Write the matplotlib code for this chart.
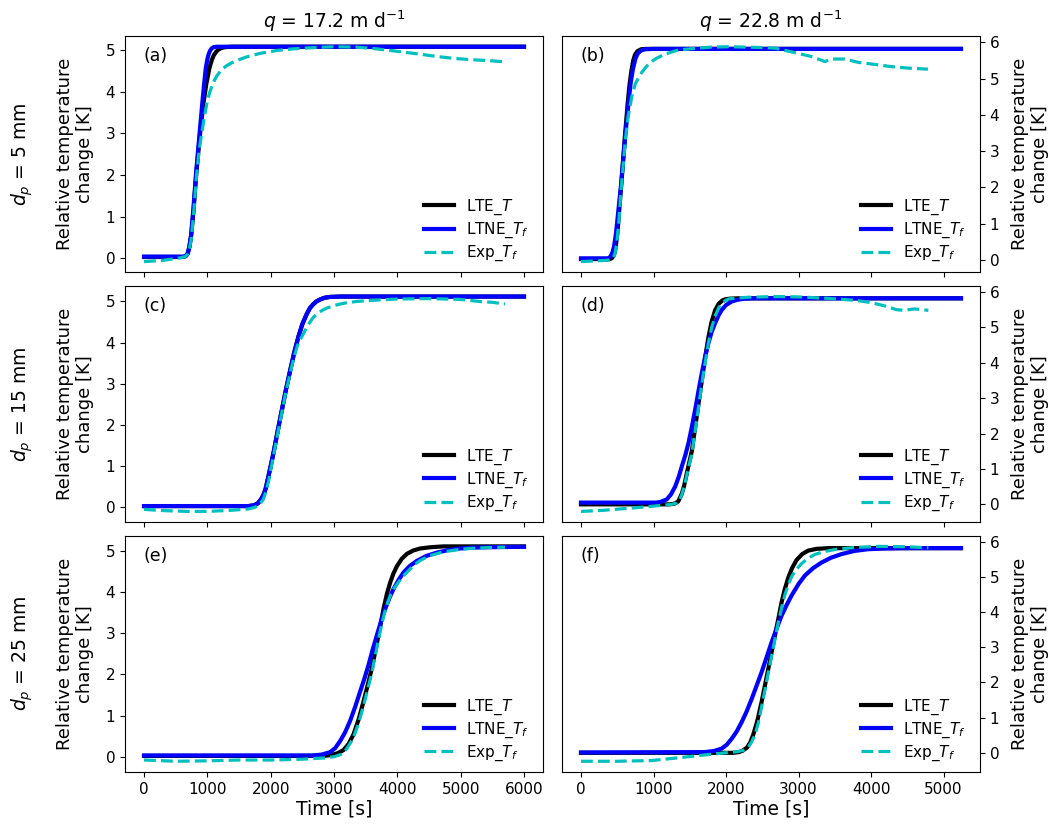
import matplotlib
matplotlib.use('Agg')
import matplotlib.pyplot as plt

# ---------------------------------------------------------------- data
# (a) q = 17.2, dp = 5 mm
a_lte_t = [0, 620, 660, 690, 717, 745, 785, 825, 880, 938, 985, 1032, 1070, 1100, 1140,
           1175, 1220, 1280, 1400, 6000]
a_lte = [0.03, 0.03, 0.05, 0.11, 0.27, 0.55, 1.2, 2.03, 2.92, 3.72, 4.2, 4.56, 4.76,
         4.87, 4.96, 5.01, 5.05, 5.07, 5.08, 5.08]
a_ltne_t = [0, 620, 660, 690, 715, 743, 780, 822, 875, 922, 950, 975, 1000, 1020, 1045,
            1069, 1100, 1150, 6000]
a_ltne = [0.04, 0.04, 0.06, 0.12, 0.28, 0.56, 1.2, 2.05, 2.96, 3.76, 4.2, 4.56, 4.78,
          4.9, 4.99, 5.04, 5.07, 5.08, 5.08]
a_exp_t = [0, 300, 570, 650, 690, 715, 745, 790, 830, 870, 911, 950, 990, 1030, 1070,
           1110, 1150, 1220, 1300, 1380, 1465, 1650, 1833, 2100, 2360, 2700, 3000,
           3350, 3600, 3835, 4100, 4362, 4600, 4890, 5150, 5400, 5680]
a_exp = [-0.08, -0.05, 0.01, 0.04, 0.1, 0.22, 0.45, 1.2, 2.0, 2.6, 3.0, 3.38, 3.7, 3.95,
         4.13, 4.27, 4.38, 4.52, 4.62, 4.69, 4.75, 4.85, 4.92, 4.99, 5.03, 5.06, 5.08,
         5.07, 5.04, 5.0, 4.95, 4.9, 4.85, 4.8, 4.77, 4.75, 4.72]

# (b) q = 22.8, dp = 5 mm
b_lte_t = [0, 400, 430, 455, 475, 500, 551, 605, 645, 670, 695, 720, 745, 780, 830, 900,
           5240]
b_lte = [0.02, 0.02, 0.05, 0.13, 0.3, 0.7, 1.95, 3.4, 4.35, 4.85, 5.22, 5.5, 5.66, 5.76,
         5.81, 5.82, 5.82]
b_ltne_t = [0, 370, 404, 430, 455, 482, 551, 611, 656, 686, 716, 750, 785, 830, 886,
            1000, 5240]
b_ltne = [0.04, 0.04, 0.08, 0.18, 0.36, 0.72, 2.05, 3.44, 4.35, 4.9, 5.26, 5.55, 5.7,
          5.78, 5.81, 5.82, 5.82]
b_exp_t = [0, 200, 400, 440, 465, 490, 520, 551, 611, 650, 700, 748, 800, 837, 900,
           960, 1023, 1150, 1344, 1600, 1800, 2050, 2445, 2675, 2900, 3177, 3362, 3454,
           3638, 3821, 4096, 4280, 4509, 4784]
b_exp = [-0.05, -0.03, -0.01, 0.04, 0.15, 0.4, 1.0, 1.9, 3.3, 3.95, 4.5, 4.85, 5.05,
         5.17, 5.33, 5.45, 5.54, 5.67, 5.79, 5.84, 5.87, 5.88, 5.86, 5.84, 5.74, 5.61,
         5.47, 5.54, 5.54, 5.45, 5.38, 5.33, 5.29, 5.26]

# (c) q = 17.2, dp = 15 mm
c_lte_t = [0, 1650, 1740, 1800, 1850, 1886, 1920, 1960, 2000, 2044, 2110, 2176, 2240,
           2307, 2370, 2439, 2500, 2571, 2620, 2670, 2720, 2781, 2850, 2930, 3097, 6000]
c_lte = [0.03, 0.03, 0.05, 0.1, 0.2, 0.3, 0.45, 0.72, 1.0, 1.32, 1.85, 2.36, 2.85, 3.32,
         3.75, 4.15, 4.45, 4.7, 4.84, 4.93, 5.0, 5.05, 5.09, 5.11, 5.12, 5.12]
c_ltne_t = [0, 1650, 1740, 1800, 1850, 1886, 1920, 1960, 2000, 2044, 2110, 2176, 2240,
            2307, 2370, 2439, 2500, 2571, 2620, 2670, 2720, 2781, 2850, 2930, 3097, 6000]
c_ltne = [0.03, 0.03, 0.05, 0.1, 0.2, 0.3, 0.45, 0.72, 1.0, 1.32, 1.85, 2.36, 2.85, 3.32,
          3.75, 4.15, 4.45, 4.7, 4.84, 4.93, 5.0, 5.05, 5.09, 5.11, 5.12, 5.12]
c_exp_t = [0, 300, 700, 1000, 1400, 1650, 1750, 1820, 1886, 1925, 1965, 2000, 2044,
           2110, 2176, 2240, 2307, 2360, 2420, 2470, 2518, 2570, 2620, 2676, 2750, 2820,
           2887, 3000, 3100, 3203, 3350, 3519, 3750, 4000, 4500, 5000, 5300, 5500, 5700]
c_exp = [-0.05, -0.08, -0.1, -0.1, -0.07, -0.04, 0.0, 0.06, 0.2, 0.38, 0.62, 0.9, 1.25,
         1.78, 2.3, 2.8, 3.25, 3.6, 3.92, 4.08, 4.22, 4.37, 4.5, 4.62, 4.72, 4.79, 4.84,
         4.9, 4.94, 4.97, 5.0, 5.02, 5.04, 5.06, 5.07, 5.05, 5.0, 4.98, 4.94]

# (d) q = 22.8, dp = 15 mm
d_lte_t = [0, 1220, 1290, 1340, 1390, 1425, 1459, 1528, 1597, 1645, 1688, 1720, 1757,
           1800, 1849, 1900, 1950, 1987, 2050, 2150, 5240]
d_lte = [0.0, 0.0, 0.02, 0.08, 0.3, 0.55, 0.88, 1.5, 2.5, 3.2, 3.8, 4.25, 4.72, 5.15,
         5.48, 5.67, 5.76, 5.79, 5.81, 5.82, 5.82]
d_ltne_t = [0, 1040, 1100, 1183, 1240, 1298, 1345, 1390, 1440, 1482, 1530, 1574, 1620,
            1665, 1710, 1757, 1800, 1849, 1900, 1940, 2000, 2078, 2160, 2250, 2400, 5240]
d_ltne = [0.05, 0.05, 0.07, 0.14, 0.28, 0.5, 0.76, 1.07, 1.4, 1.73, 2.2, 2.67, 3.2, 3.7,
          4.15, 4.55, 4.86, 5.12, 5.35, 5.49, 5.63, 5.73, 5.78, 5.81, 5.82, 5.82]
d_exp_t = [0, 300, 600, 900, 1100, 1250, 1321, 1360, 1390, 1425, 1459, 1528, 1597, 1645,
           1688, 1720, 1757, 1800, 1849, 1900, 1940, 2000, 2050, 2300, 2700, 3000, 3400,
           3800, 4000, 4200, 4350, 4450, 4600, 4700, 4790]
d_exp = [-0.2, -0.17, -0.12, -0.07, -0.03, 0.0, 0.04, 0.12, 0.28, 0.52, 0.83, 1.43, 2.4,
         3.1, 3.7, 4.1, 4.55, 4.98, 5.32, 5.56, 5.68, 5.77, 5.81, 5.85, 5.87, 5.86, 5.82,
         5.76, 5.7, 5.6, 5.5, 5.48, 5.52, 5.5, 5.48]

# (e) q = 17.2, dp = 25 mm
e_lte_t = [0, 2850, 2950, 3050, 3150, 3230, 3308, 3390, 3466, 3535, 3598, 3650, 3703,
           3745, 3782, 3835, 3888, 3940, 3993, 4070, 4151, 4250, 4362, 4530, 4730, 6000]
e_lte = [0.03, 0.03, 0.05, 0.09, 0.17, 0.32, 0.55, 0.92, 1.35, 1.76, 2.15, 2.55, 2.95,
         3.29, 3.59, 3.95, 4.23, 4.45, 4.62, 4.8, 4.92, 5.0, 5.05, 5.08, 5.1, 5.1]
e_ltne_t = [0, 2650, 2800, 2939, 3020, 3097, 3175, 3255, 3335, 3413, 3480, 3545, 3610,
            3677, 3745, 3809, 3875, 3940, 4020, 4098, 4200, 4309, 4460, 4625, 4800, 4994,
            5200, 5468, 6000]
e_ltne = [0.04, 0.04, 0.06, 0.12, 0.22, 0.39, 0.6, 0.88, 1.22, 1.59, 1.9, 2.23, 2.6,
          2.95, 3.3, 3.59, 3.85, 4.07, 4.29, 4.47, 4.63, 4.75, 4.87, 4.95, 5.01, 5.05,
          5.07, 5.08, 5.09]
e_exp_t = [0, 500, 1000, 1500, 2000, 2500, 2850, 3000, 3100, 3200, 3300, 3390, 3466,
           3535, 3598, 3650, 3703, 3750, 3800, 3850, 3900, 3950, 4000, 4098, 4200, 4280,
           4362, 4500, 4730, 5000, 5152, 5400, 5700]
e_exp = [-0.07, -0.1, -0.09, -0.07, -0.07, -0.05, -0.02, 0.01, 0.06, 0.2, 0.45, 0.83,
         1.25, 1.66, 2.05, 2.45, 2.85, 3.2, 3.5, 3.75, 3.95, 4.09, 4.2, 4.39, 4.55, 4.67,
         4.76, 4.87, 4.97, 5.03, 5.05, 5.07, 5.08]

# (f) q = 22.8, dp = 25 mm
f_lte_t = [0, 2100, 2180, 2230, 2290, 2335, 2376, 2430, 2490, 2583, 2674, 2720, 2766,
           2810, 2858, 2910, 2972, 3050, 3133, 3250, 3408, 5240]
f_lte = [0.0, 0.0, 0.02, 0.06, 0.15, 0.3, 0.52, 0.9, 1.44, 2.39, 3.33, 3.8, 4.28, 4.65,
         4.98, 5.25, 5.48, 5.65, 5.75, 5.8, 5.82, 5.82]
f_ltne_t = [0, 1700, 1830, 1940, 2010, 2078, 2145, 2215, 2285, 2353, 2420, 2490, 2560,
            2628, 2700, 2766, 2835, 2903, 3000, 3087, 3200, 3316, 3450, 3591, 3770, 3958,
            4200, 4500, 5240]
f_ltne = [0.01, 0.02, 0.05, 0.12, 0.23, 0.4, 0.6, 0.87, 1.18, 1.53, 1.9, 2.29, 2.72,
          3.14, 3.55, 3.9, 4.2, 4.47, 4.8, 5.04, 5.25, 5.41, 5.55, 5.65, 5.74, 5.79,
          5.81, 5.82, 5.82]
f_exp_t = [0, 500, 977, 1300, 1620, 1800, 1987, 2150, 2240, 2300, 2350, 2400, 2445,
           2490, 2583, 2674, 2720, 2766, 2810, 2858, 2910, 2972, 3041, 3130, 3225, 3350,
           3500, 3775, 4100, 4500, 4790]
f_exp = [-0.24, -0.24, -0.22, -0.15, -0.08, -0.04, 0.0, 0.03, 0.07, 0.14, 0.3, 0.52,
         0.85, 1.3, 2.28, 3.22, 3.7, 4.12, 4.48, 4.78, 5.03, 5.22, 5.38, 5.53, 5.64,
         5.72, 5.78, 5.84, 5.87, 5.86, 5.83]

panel_labels = ['(a)', '(b)', '(c)', '(d)', '(e)', '(f)']
col_titles = ['$q$ = 17.2 m d$^{-1}$', '$q$ = 22.8 m d$^{-1}$']
row_titles = ['$d_p$ = 5 mm', '$d_p$ = 15 mm', '$d_p$ = 25 mm']
series = [
    (a_lte_t, a_lte, a_ltne_t, a_ltne, a_exp_t, a_exp),
    (b_lte_t, b_lte, b_ltne_t, b_ltne, b_exp_t, b_exp),
    (c_lte_t, c_lte, c_ltne_t, c_ltne, c_exp_t, c_exp),
    (d_lte_t, d_lte, d_ltne_t, d_ltne, d_exp_t, d_exp),
    (e_lte_t, e_lte, e_ltne_t, e_ltne, e_exp_t, e_exp),
    (f_lte_t, f_lte, f_ltne_t, f_ltne, f_exp_t, f_exp),
]

# ---------------------------------------------------------------- figure
fig, axes = plt.subplots(3, 2, figsize=(10.56, 8.27), dpi=100, sharex='col')
fig.subplots_adjust(left=0.1184, right=0.928, top=0.9565, bottom=0.0665,
                    wspace=0.0455, hspace=0.057)

ylabel = 'Relative temperature\nchange [K]'

for k, ax in enumerate(axes.flat):
    lte_t, lte, ltne_t, ltne, exp_t, exp = series[k]
    ax.plot(lte_t, lte, color='k', lw=3, label='LTE_$T$')
    ax.plot(ltne_t, ltne, color='b', lw=3, label='LTNE_$T_f$')
    ax.plot(exp_t, exp, color='c', lw=2.3, ls='--', label='Exp_$T_f$')
    ax.text(0.045, 0.915, panel_labels[k], transform=ax.transAxes,
            fontsize=12.5, va='center')
    ax.legend(loc='lower right', bbox_to_anchor=(1.0, -0.02), frameon=False,
              fontsize=11, labelspacing=0.25)
    ax.tick_params(labelsize=11)
    if k % 2 == 1:
        ax.yaxis.tick_right()
        ax.yaxis.set_label_position('right')
    ax.set_ylabel(ylabel, fontsize=13, labelpad=8)
    if k >= 4:
        ax.set_xlabel('Time [s]', fontsize=13.5, labelpad=2)

for j, t in enumerate(col_titles):
    axes[0, j].set_title(t, fontsize=13.5, pad=6)

for i, t in enumerate(row_titles):
    box = axes[i, 0].get_position()
    fig.text(0.021, (box.y0 + box.y1) / 2, t, rotation=90, fontsize=13.5,
             ha='center', va='center')

fig.savefig('out.png', dpi=100)
